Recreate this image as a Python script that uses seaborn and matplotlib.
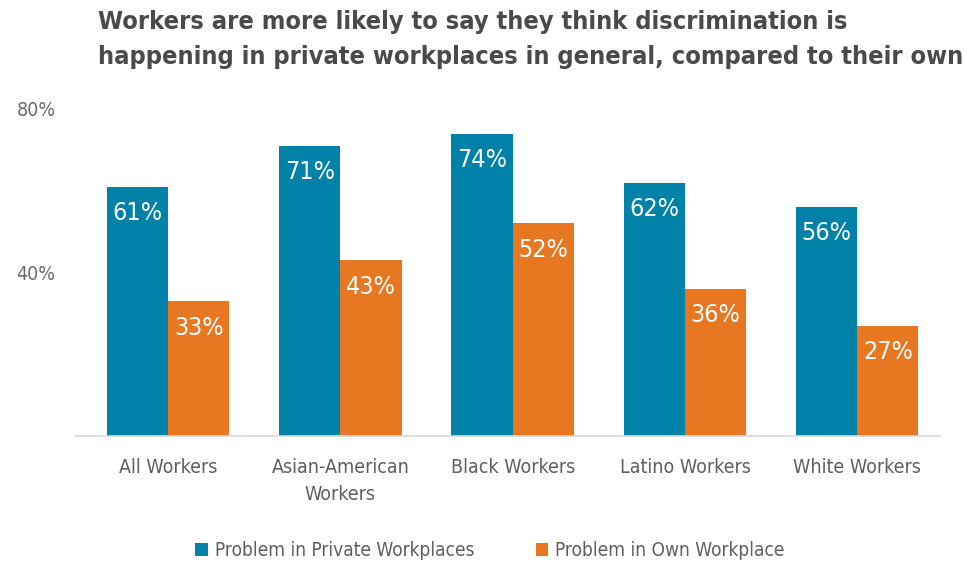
import matplotlib
matplotlib.use("Agg")
import matplotlib.pyplot as plt
import seaborn as sns
import pandas as pd
from matplotlib.patches import Patch

categories = ["All Workers", "Asian-American\nWorkers", "Black Workers", "Latino Workers", "White Workers"]
private_vals = [0.61, 0.71, 0.74, 0.62, 0.56]
own_vals = [0.33, 0.43, 0.52, 0.36, 0.27]
series = ["Problem in Private Workplaces", "Problem in Own Workplace"]
colors = ["#0081A7", "#E87722"]
yticks = [0.4, 0.8]
ytick_labels = ["40%", "80%"]
title = "Workers are more likely to say they think discrimination is\nhappening in private workplaces in general, compared to their own"

df = pd.DataFrame({
    "category": categories * 2,
    "series": [series[0]] * len(categories) + [series[1]] * len(categories),
    "value": private_vals + own_vals,
})

sns.set_theme(style="white")
plt.rcParams["font.family"] = ["DejaVu Sans"]
plt.rcParams["font.stretch"] = "condensed"

fig = plt.figure(figsize=(9.67, 5.63), dpi=100)
ax = fig.add_axes([75/967, 1-436/563, (940-75)/967, (436-109)/563])

sns.barplot(data=df, x="category", y="value", hue="series", order=categories,
            hue_order=series, palette=colors, width=0.71, ax=ax,
            saturation=1, legend=False, linewidth=0)

ax.set_xlim(-0.54, 4.48)
ax.set_ylim(0, 0.8)
ax.set_yticks(yticks)
ax.set_yticklabels(ytick_labels, color="#6b6b6b", fontsize=14, stretch="condensed")
ax.tick_params(axis="y", length=0, pad=14)
ax.tick_params(axis="x", length=0, pad=16)
for lab in ax.get_xticklabels():
    lab.set_color("#5f5f5f")
    lab.set_fontsize(14)
    lab.set_fontstretch("condensed")
    lab.set_linespacing(1.55)
ax.set_xlabel("")
ax.set_ylabel("")
for s in ["top", "right", "left"]:
    ax.spines[s].set_visible(False)
ax.spines["bottom"].set_color("#d9d9d9")
ax.spines["bottom"].set_linewidth(1.2)

for cont in ax.containers:
    for p in cont:
        h = p.get_height()
        ax.annotate(f"{round(h*100)}%", (p.get_x() + p.get_width()/2, h),
                    xytext=(0, -19), textcoords="offset points",
                    ha="center", va="center", color="white", fontsize=18,
                    fontstretch="condensed")

fig.text(98/967, 1-10/563, title, ha="left", va="top", fontsize=18.2, fontweight="bold",
         color="#4a4a4a", linespacing=1.6, fontstretch="condensed")

handles = [Patch(facecolor=c, edgecolor="none") for c in colors]
leg = fig.legend(handles, series, loc="center", bbox_to_anchor=(490/967, 1-551/563), ncol=2,
                 frameon=False, fontsize=13.7, handlelength=0.65, handleheight=0.65,
                 columnspacing=3.2, handletextpad=0.4)
for t in leg.get_texts():
    t.set_color("#5f5f5f")
    t.set_fontstretch("condensed")

fig.savefig("out.png", dpi=100)
